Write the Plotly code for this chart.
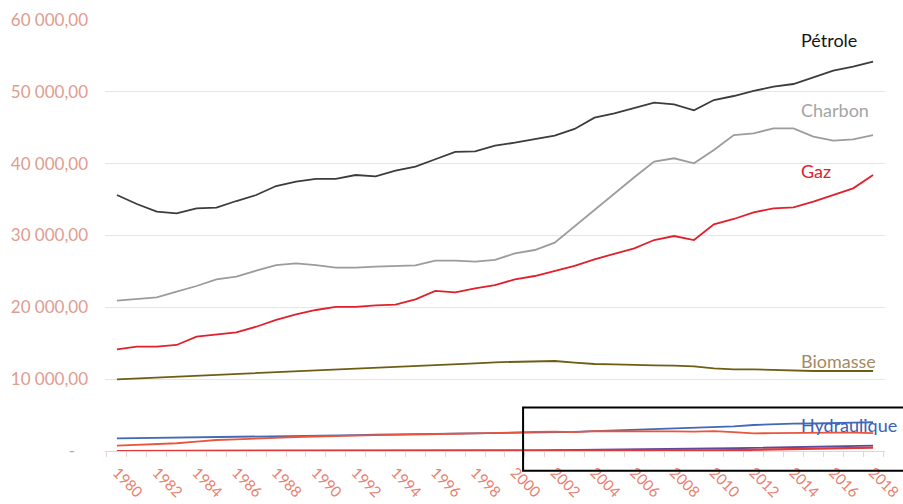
import plotly.graph_objects as go

# Consommation mondiale d'énergie primaire par source (TWh), 1980-2018
years = list(range(1980, 2019))

petrole = [35640, 34390, 33320, 33090, 33790, 33880, 34800, 35640, 36890, 37490,
           37870, 37870, 38420, 38240, 39020, 39580, 40610, 41630, 41720, 42500,
           42920, 43430, 43900, 44830, 46410, 47010, 47710, 48490, 48260, 47430,
           48860, 49420, 50120, 50720, 51090, 52020, 52940, 53500, 54200]

charbon = [20930, 21120, 21400, 22180, 22970, 23900, 24270, 25100, 25890, 26130,
           25890, 25520, 25520, 25660, 25760, 25850, 26490, 26490, 26350, 26600,
           27520, 27980, 29000, 31300, 33600, 35900, 38100, 40280, 40750, 40050,
           41900, 43990, 44220, 44920, 44920, 43760, 43200, 43390, 43990]

gaz = [14160, 14520, 14520, 14760, 15910, 16240, 16520, 17300, 18240, 19020,
       19630, 20050, 20050, 20280, 20370, 21120, 22280, 22090, 22650, 23100,
       23900, 24360, 25100, 25760, 26690, 27430, 28220, 29370, 29930, 29370,
       31560, 32300, 33230, 33780, 33920, 34710, 35640, 36570, 38420]

biomasse = [9980, 10100, 10220, 10330, 10440, 10560, 10690, 10820, 10950, 11080,
            11220, 11350, 11480, 11600, 11720, 11840, 11970, 12090, 12200, 12350,
            12430, 12530, 12530, 12300, 12110, 12070, 11970, 11930, 11880, 11790,
            11510, 11370, 11370, 11280, 11140, 11140, 11140, 11140, 11140]

hydraulique = [1760, 1790, 1820, 1870, 1910, 1950, 1980, 2000, 2050, 2060,
               2120, 2180, 2200, 2290, 2320, 2420, 2460, 2500, 2530, 2560,
               2600, 2570, 2620, 2650, 2780, 2870, 2960, 3030, 3170, 3200,
               3380, 3440, 3620, 3740, 3810, 3830, 3930, 3950, 4000]

nucleaire = [740, 860, 950, 1080, 1300, 1530, 1630, 1750, 1890, 1950,
             2020, 2110, 2120, 2200, 2250, 2330, 2410, 2400, 2440, 2530,
             2560, 2650, 2690, 2640, 2760, 2770, 2800, 2750, 2740, 2700,
             2760, 2620, 2460, 2480, 2540, 2550, 2560, 2560, 2500]

eolien = [0, 0, 0, 0, 0, 0, 0, 10, 10, 10,
          10, 20, 20, 20, 30, 30, 40, 50, 60, 70,
          80, 100, 110, 130, 150, 170, 190, 210, 240, 280,
          330, 380, 430, 480, 530, 580, 630, 690, 740]

solaire = [0, 0, 0, 0, 0, 0, 0, 0, 0, 0,
           0, 0, 0, 0, 0, 0, 0, 0, 0, 0,
           0, 0, 0, 0, 0, 0, 10, 20, 30, 50,
           80, 120, 160, 200, 240, 290, 340, 400, 460]

y_ticks = [0, 10000, 20000, 30000, 40000, 50000, 60000]
y_ticktext = ["-\u00a0\u00a0\u00a0", "10 000,00", "20 000,00", "30 000,00",
              "40 000,00", "50 000,00", "60 000,00"]
x_ticks = list(range(1980, 2019, 2))
x_ticktext = [str(y) for y in x_ticks]

FONT = "Lato"

series = [
    ("Hydraulique", hydraulique, "#4169b8", 1.8),
    ("Nucléaire", nucleaire, "#e8563e", 1.8),
    ("Éolien", eolien, "#5e4a9a", 1.8),
    ("Solaire", solaire, "#dc3a3c", 2.2),
    ("Biomasse", biomasse, "#6e5e14", 1.8),
    ("Gaz", gaz, "#e0202c", 1.8),
    ("Charbon", charbon, "#9c9c9c", 1.8),
    ("Pétrole", petrole, "#3c3c3c", 1.8),
]

fig = go.Figure()
for name, vals, color, w in series:
    fig.add_trace(go.Scatter(x=years, y=vals, mode="lines", name=name,
                             line=dict(color=color, width=w), hoverinfo="skip"))

# Series labels at the right end of the lines
labels = [
    ("Pétrole", 57220, "#151515"),
    ("Charbon", 47470, "#a4a4a4"),
    ("Gaz", 38980, "#e0202c"),
    ("Biomasse", 12530, "#a48a62"),
    ("Hydraulique", 3620, "#3a62b4"),
]
for text, yv, color in labels:
    fig.add_annotation(x=2014.3, y=yv, text=text, showarrow=False,
                       xanchor="left", yanchor="middle",
                       font=dict(family=FONT, size=18, color=color))

# Highlight frame around the small sources after 2000
fig.add_shape(type="rect", xref="paper", yref="paper",
              x0=0.536, x1=1.03, y0=-0.046, y1=0.101,
              line=dict(color="#000000", width=2), fillcolor="rgba(0,0,0,0)")

fig.update_layout(
    width=903, height=504,
    margin=dict(l=105, r=18, t=20, b=53, autoexpand=False),
    paper_bgcolor="white", plot_bgcolor="white",
    showlegend=False,
    font=dict(family=FONT),
)
fig.update_xaxes(
    range=[1979.4, 2018.6], automargin=False,
    tickmode="array", tickvals=x_ticks, ticktext=x_ticktext,
    tickangle=45, ticks="", ticklabeloverflow="allow",
    ticklabelstandoff=6,
    tickfont=dict(family=FONT, size=15, color="#e8806e"),
    showgrid=False, zeroline=False,
    showline=True, linecolor="#e8d2d2", linewidth=1,
    minor=dict(tickmode="linear", tick0=1979.5, dtick=1, ticks="outside",
               ticklen=5, tickcolor="#e8d2d2", showgrid=False),
)
fig.update_yaxes(
    range=[0, 60000], automargin=False,
    tickmode="array", tickvals=y_ticks, ticktext=y_ticktext,
    tickfont=dict(family=FONT, size=17, color="#e09c90"),
    showgrid=True, gridcolor="#ece2e2", gridwidth=1,
    zeroline=False, showline=False, ticks="",
    ticklabelstandoff=16,
)

fig.write_html("out.html")
